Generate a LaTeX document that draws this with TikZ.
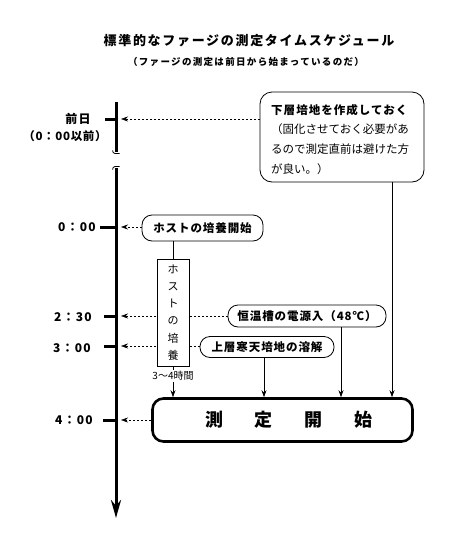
\documentclass[tikz,border=0pt]{standalone}
\usepackage{fontspec}
\setmainfont{Noto Sans CJK JP}
\usetikzlibrary{arrows.meta}
\tikzset{
  tickmark/.style={line width=3pt},
  axis/.style={line width=3pt},
  dasharrow/.style={line width=0.6pt, dash pattern=on 2pt off 2pt, -{Stealth[length=7pt,width=5pt]}},
  feed/.style={line width=0.7pt, -{Stealth[length=7pt,width=5pt]}},
  pill/.style={draw, line width=0.8pt, rounded corners=10pt, inner sep=0pt, font=\fontsize{11.5}{12}\selectfont\bfseries\addfontfeatures{LetterSpace=8}},
  timelbl/.style={font=\fontsize{12}{13}\selectfont\bfseries\addfontfeatures{LetterSpace=10}, inner sep=0pt},
}
\begin{document}
\begin{tikzpicture}[x=1pt,y=-1pt]
\useasboundingbox (0,0) rectangle (467,555);
% titles
\node[font=\fontsize{13}{14}\selectfont\bfseries\addfontfeatures{LetterSpace=13}] (title) at (249,41) {標準的なファージの測定タイムスケジュール};
\node[font=\fontsize{9.5}{10}\selectfont\bfseries\addfontfeatures{LetterSpace=14}] (subtitle) at (246,62) {（ファージの測定は前日から始まっているのだ）};
% timeline
\coordinate (ax0) at (116,102);
\coordinate (ax1) at (116,152);
\coordinate (ax2) at (116,168);
\coordinate (ax3) at (116,518);
\draw[axis] (ax0) -- (ax1);
\draw[axis, -{Stealth[length=18pt,width=10pt]}] (ax2) -- (ax3);
\draw[line width=0.8pt] (112.5,150.5) to[out=-80,in=180] (115,153.5) -- (119.5,153.5);
\draw[line width=0.8pt] (112.5,169.5) to[out=80,in=180] (115,166.5) -- (119.5,166.5);
% ticks
\foreach \n/\y/\xa in {A/119/105, B/227/100, C/316/104, D/346/104, E/420/103}{
  \coordinate (tk\n) at (\xa,\y);
  \coordinate (tm\n) at (116,\y);
  \coordinate (ta\n) at (121,\y);
  \draw[tickmark] (tk\n) -- (tm\n);
}
\node[timelbl] (lA) at (78,119) {前日};
\node[timelbl, font=\fontsize{11.5}{12}\selectfont\bfseries\addfontfeatures{LetterSpace=6}] (lA2) at (65,136) {（0：00以前）};
\node[timelbl] (lB) at (77,227) {0：00};
\node[timelbl] (lC) at (73,317) {2：30};
\node[timelbl] (lD) at (72,348) {3：00};
\node[timelbl] (lE) at (74,420) {4：00};
% callout
\node[draw, line width=0.8pt, rounded corners=12pt, minimum width=164pt, minimum height=90pt, inner sep=0pt] (callout) at (342,137) {};
\node[anchor=north west, align=left, inner sep=0pt, font=\fontsize{11.5}{19.7}\selectfont] (callouttxt) at (271,104)
  {{\bfseries\addfontfeatures{LetterSpace=9}下層培地を作成しておく}\\（固化させておく必要があ\\るので測定直前は避けた方\\が良い。）};
% pills
\node[pill, minimum width=121pt, minimum height=26pt] (pill1) at (202.5,228) {ホストの培養開始};
\node[pill, minimum width=158pt, minimum height=22pt] (pill2) at (307,316) {恒温槽の電源入（48℃）};
\node[pill, minimum width=134pt, minimum height=21pt] (pill3) at (267,347) {上層寒天培地の溶解};
% main box
\node[draw, line width=2.6pt, rounded corners=11pt, minimum width=260pt, minimum height=43pt, inner sep=0pt] (mainbox) at (282.5,420) {};
\node[font=\fontsize{18}{20}\selectfont\bfseries, inner sep=0pt] (maintxt) at (289,420) {測\hspace{32pt}定\hspace{32pt}開\hspace{32pt}始};
% dashed arrows to timeline
\draw[dasharrow] (callout.west |- taA) -- (taA);
\draw[dasharrow] (pill1.west |- taB) -- (taB);
\draw[dasharrow] (pill2.west |- taC) -- (taC);
\draw[dasharrow] (pill3.west |- taD) -- (taD);
\draw[dasharrow] (mainbox.west |- taE) -- (taE);
% host culture rect
\node[draw, fill=white, line width=0.8pt, minimum width=32pt, minimum height=107pt, inner sep=0pt, align=center, font=\fontsize{11}{17.2}\selectfont] (rect) at (173,312.5) {ホ\\ス\\ト\\の\\培\\養};
\draw[line width=0.7pt] (pill1.south -| rect.north) -- (rect.north);
\node[font=\fontsize{10}{11}\selectfont, inner sep=1pt] (dur) at (173,376) {3〜4時間};
\draw[line width=0.7pt] (rect.south) -- (dur.north);
% feeds into main box
\coordinate (xc) at (392,0);
\coordinate (x2) at (341,0);
\coordinate (x3) at (264,0);
\draw[feed] (dur.south) -- (mainbox.north -| dur.south);
\draw[feed] (pill3.south -| x3) -- (mainbox.north -| x3);
\draw[feed] (pill2.south -| x2) -- (mainbox.north -| x2);
\draw[feed] (callout.south -| xc) -- (mainbox.north -| xc);
\end{tikzpicture}
\end{document}
